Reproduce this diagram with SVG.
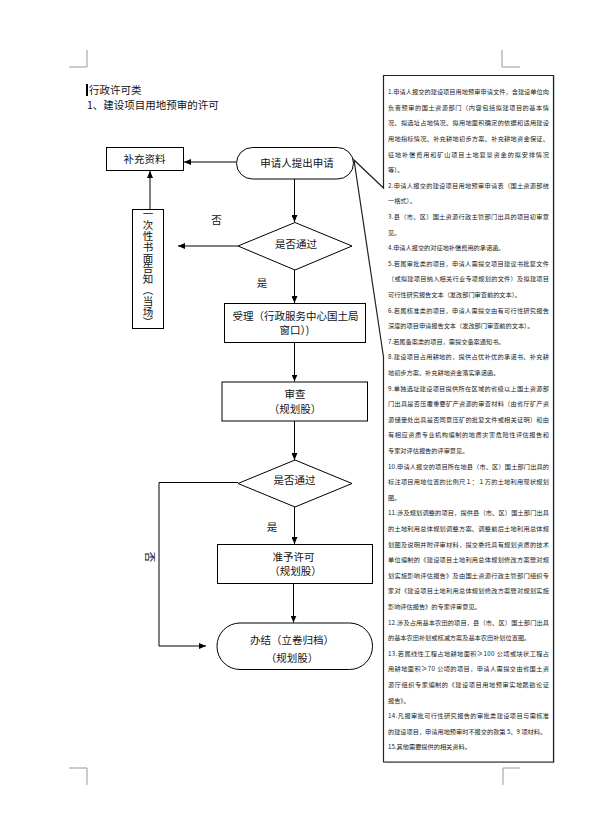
<svg xmlns="http://www.w3.org/2000/svg" width="589" height="838" viewBox="0 0 589 838">
<style>
.t{font-family:"Noto Sans CJK SC","Noto Sans",sans-serif;font-size:10.5px;fill:#111}
.c{text-anchor:middle}
.s{font-family:"Noto Sans CJK SC","Noto Sans",sans-serif;font-size:6.2px;fill:#222}
.n{fill:#fff;stroke:#000;stroke-width:1}
.e{fill:none;stroke:#000;stroke-width:1}
.m{fill:none;stroke:#999;stroke-width:1}
</style>
<defs>
<marker id="ah" markerUnits="userSpaceOnUse" markerWidth="7" markerHeight="6" refX="7" refY="3" orient="auto">
<path d="M0,0 L7,3 L0,6 Z" fill="#000"/>
</marker>
</defs>
<rect width="589" height="838" fill="#fff"/>
<g id="cropmarks">
<path class="m" d="M87,50 V67 H69"/>
<path class="m" d="M502,50 V67 H520"/>
<path class="m" d="M87,785 V768 H69"/>
<path class="m" d="M503,785 V768 H520"/>
</g>
<g id="heading">
<rect x="86" y="84" width="2" height="12" fill="#000"/>
<text class="t" x="89" y="94">行政许可类</text>
<text class="t" x="87" y="109">1、建设项目用地预审的许可</text>
</g>
<g id="connectors">
<path class="e" d="M236,162 H184" marker-end="url(#ah)"/>
<path class="e" d="M294.5,179 V222" marker-end="url(#ah)"/>
<path class="e" d="M238,246 H178" marker-end="url(#ah)"/>
<path class="e" d="M150,209 V171" marker-end="url(#ah)"/>
<path class="e" d="M294.5,270 V303" marker-end="url(#ah)"/>
<path class="e" d="M294.5,342 V381.5" marker-end="url(#ah)"/>
<path class="e" d="M294.5,421 V460" marker-end="url(#ah)"/>
<path class="e" d="M238,482.5 H159 V646 H206" marker-end="url(#ah)"/>
<path class="e" d="M294.5,507 V544" marker-end="url(#ah)"/>
<path class="e" d="M293.5,583 V622.5" marker-end="url(#ah)"/>
<text class="t c" x="216.5" y="224">否</text>
<text class="t c" x="262" y="287">是</text>
<text class="t c" x="272" y="531">是</text>
<text class="t c" transform="translate(150,557) rotate(90)" x="0" y="4">否</text>
</g>
<g id="n_buchong">
<rect class="n" x="106.5" y="147.5" width="77" height="23"/>
<text class="t c" x="144.5" y="162.5">补充资料</text>
</g>
<g id="n_shenqing">
<rect class="n" x="236.5" y="147.5" width="117" height="31.5" rx="16" ry="15.75"/>
<text class="t c" x="297" y="166.5">申请人提出申请</text>
</g>
<g id="n_gaozhi">
<rect class="n" x="132.5" y="209.5" width="31" height="119"/>
<text class="t c" x="148" y="268.5" style="writing-mode:vertical-rl;letter-spacing:0.3px">一次性书面告知（当场）</text>
</g>
<g id="n_pass1">
<path class="n" d="M295,222.5 L352,246 L295,270 L238,246 Z"/>
<text class="t c" x="296" y="247.5">是否通过</text>
</g>
<g id="n_shouli">
<rect class="n" x="224.5" y="303.5" width="141" height="39"/>
<text class="t c" x="295.5" y="320">受理（行政服务中心国土局</text>
<text class="t c" x="294.5" y="334">窗口）)</text>
</g>
<g id="n_shencha">
<rect class="n" x="222" y="382" width="145.5" height="39"/>
<text class="t c" x="295" y="397.5">审查</text>
<text class="t c" x="295" y="412.5">（规划股）</text>
</g>
<g id="n_pass2">
<path class="n" d="M295,460 L352,483.5 L295,507 L238,483.5 Z"/>
<text class="t c" x="294.5" y="484">是否通过</text>
</g>
<g id="n_zhunyu">
<rect class="n" x="217.5" y="544.5" width="155" height="39"/>
<text class="t c" x="293.5" y="560.5">准予许可</text>
<text class="t c" x="295.5" y="574.5">（规划股）</text>
</g>
<g id="n_banjie">
<rect class="n" x="217" y="623" width="155.5" height="46.5" rx="23" ry="23"/>
<text class="t c" x="292" y="643.5">办结（立卷归档）</text>
<text class="t c" x="292" y="662">（规划股）</text>
</g>
<g id="n_notes">
<path d="M384.5,76.5 H554.5 V763 H384.5 V359 Z" fill="#bbb" stroke="none"/>
<path d="M383.5,75.5 H553.5 V762 H383.5 V357 L354,160 L383.5,188 Z" fill="#fff" stroke="#222" stroke-width="1.2"/>
<g class="s">
<text x="388" y="94.2" textLength="161" lengthAdjust="spacing">1.申请人报交的建设项目用地预审申请文件，含建设单位向</text>
<text x="388" y="109.8" textLength="161" lengthAdjust="spacing">负责预审的国土资源部门（内容包括拟建项目的基本情</text>
<text x="388" y="125.4" textLength="161" lengthAdjust="spacing">况、拟选址占地情况、拟用地面积确定的依据和适用建设</text>
<text x="388" y="141.0" textLength="161" lengthAdjust="spacing">用地指标情况、补充耕地初步方案、补充耕地资金保证、</text>
<text x="388" y="156.6" textLength="161" lengthAdjust="spacing">征地补偿费用和矿山项目土地复垦资金的拟安排情况</text>
<text x="388" y="172.2">等）。</text>
<text x="388" y="187.8" textLength="161" lengthAdjust="spacing">2.申请人报交的建设项目用地预审申请表（国土资源部统</text>
<text x="388" y="203.4">一格式）。</text>
<text x="388" y="219.0" textLength="161" lengthAdjust="spacing">3.县（市、区）国土资源行政主管部门出具的项目初审意</text>
<text x="388" y="234.6">见。</text>
<text x="388" y="250.2">4.申请人报交的对征地补偿费用的承诺函。</text>
<text x="388" y="265.8" textLength="161" lengthAdjust="spacing">5.若属审批类的项目，申请人需提交项目建议书批复文件</text>
<text x="388" y="281.4" textLength="161" lengthAdjust="spacing">（或拟建项目纳入相关行业专项规划的文件）及拟建项目</text>
<text x="388" y="297.0">可行性研究报告文本（发改部门审查前的文本）。</text>
<text x="388" y="312.6" textLength="161" lengthAdjust="spacing">6.若属核准类的项目，申请人需提交由有可行性研究报告</text>
<text x="388" y="328.2">深度的项目申请报告文本（发改部门审查前的文本）。</text>
<text x="388" y="343.8">7.若属备案类的项目，需提交备案通知书。</text>
<text x="388" y="359.4" textLength="161" lengthAdjust="spacing">8.建设项目占用耕地的，提供占优补优的承诺书、补充耕</text>
<text x="388" y="375.0">地初步方案、补充耕地资金落实承诺函。</text>
<text x="388" y="390.6" textLength="161" lengthAdjust="spacing">9.单独选址建设项目提供所在区域的省级以上国土资源部</text>
<text x="388" y="406.2" textLength="161" lengthAdjust="spacing">门出具是否压覆重要矿产资源的审查材料（由省厅矿产资</text>
<text x="388" y="421.8" textLength="161" lengthAdjust="spacing">源储量处出具是否同意压矿的批复文件或相关证明）和由</text>
<text x="388" y="437.4" textLength="161" lengthAdjust="spacing">有相应资质专业机构编制的地质灾害危险性评估报告和</text>
<text x="388" y="453.0">专家对评估报告的评审意见。</text>
<text x="388" y="468.6" textLength="161" lengthAdjust="spacing">10.申请人报交的项目所在地县（市、区）国土部门出具的</text>
<text x="388" y="484.2" textLength="161" lengthAdjust="spacing">标注项目用地位置的比例尺１：１万的土地利用现状规划</text>
<text x="388" y="499.8">图。</text>
<text x="388" y="515.4" textLength="161" lengthAdjust="spacing">11.涉及规划调整的项目，提供县（市、区）国土部门出具</text>
<text x="388" y="531.0" textLength="161" lengthAdjust="spacing">的土地利用总体规划调整方案、调整前后土地利用总体规</text>
<text x="388" y="546.6" textLength="161" lengthAdjust="spacing">划图及说明并附评审材料，提交委托具有规划资质的技术</text>
<text x="388" y="562.2" textLength="161" lengthAdjust="spacing">单位编制的《建设项目土地利用总体规划修改方案暨对规</text>
<text x="388" y="577.8" textLength="161" lengthAdjust="spacing">划实施影响评估报告》及由国土资源行政主管部门组织专</text>
<text x="388" y="593.4" textLength="161" lengthAdjust="spacing">家对《建设项目土地利用总体规划修改方案暨对规划实施</text>
<text x="388" y="609.0">影响评估报告》的专家评审意见。</text>
<text x="388" y="624.6" textLength="161" lengthAdjust="spacing">12.涉及占用基本农田的项目，县（市、区）国土部门出具</text>
<text x="388" y="640.2">的基本农田补划或核减方案及基本农田补划位置图。</text>
<text x="388" y="655.8" textLength="161" lengthAdjust="spacing">13.若属线性工程占地耕地面积≥100 公顷或块状工程占</text>
<text x="388" y="671.4" textLength="161" lengthAdjust="spacing">用耕地面积≥70 公顷的项目，申请人需提交由省国土资</text>
<text x="388" y="687.0" textLength="161" lengthAdjust="spacing">源厅组织专家编制的《建设项目用地预审实地踏勘论证</text>
<text x="388" y="702.6">报告》。</text>
<text x="388" y="718.2" textLength="161" lengthAdjust="spacing">14.凡报审批可行性研究报告的审批类建设项目与需核准</text>
<text x="388" y="733.8">的建设项目，申请用地预审时不报交的款第 5、9 项材料。</text>
<text x="388" y="749.4">15.其他需要提供的相关资料。</text>
</g>
</g>
</svg>
